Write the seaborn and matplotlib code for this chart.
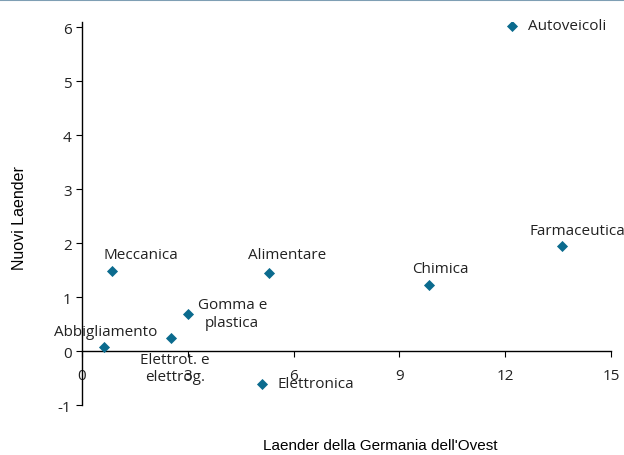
import matplotlib
matplotlib.use('Agg')
import matplotlib.pyplot as plt
from matplotlib.lines import Line2D
import seaborn as sns
import pandas as pd

# Settori: crescita nei Laender occidentali (x) e nei nuovi Laender (y)
settori = ["Autoveicoli", "Farmaceutica", "Chimica", "Alimentare", "Meccanica",
           "Gomma e\nplastica", "Abbigliamento", "Elettrot. e\nelettrog.", "Elettronica"]
ovest = [12.2, 13.6, 9.85, 5.3, 0.85, 3.0, 0.62, 2.52, 5.1]
nuovi = [6.02, 1.94, 1.22, 1.45, 1.48, 0.69, 0.07, 0.25, -0.61]
x_ticks = [0, 3, 6, 9, 12, 15]
y_ticks = [-1, 0, 1, 2, 3, 4, 5, 6]

# posizione delle etichette rispetto al punto (in punti) e allineamento
label_pos = {
    "Autoveicoli": ((11, 0), "left"),
    "Farmaceutica": ((11, 11), "center"),
    "Chimica": ((8, 12), "center"),
    "Alimentare": ((13, 13), "center"),
    "Meccanica": ((21, 12), "center"),
    "Gomma e\nplastica": ((32, 0), "center"),
    "Abbigliamento": ((1, 11), "center"),
    "Elettrot. e\nelettrog.": ((3, -22), "center"),
    "Elettronica": ((11, 0), "left"),
}

df = pd.DataFrame({"settore": settori, "ovest": ovest, "nuovi": nuovi})

sns.set_style("white")
plt.rcParams['font.family'] = ['Open Sans', 'DejaVu Sans']

fig = plt.figure(figsize=(6.24, 4.56), dpi=100)
ax = fig.add_axes([0.1314, 0.1096, 0.8478, 0.8408])

sns.scatterplot(data=df, x="ovest", y="nuovi", marker="D", s=32, color="#0B6B8E",
                edgecolor="#0B6B8E", linewidth=0, ax=ax, zorder=3)

for name, x, y in zip(settori, ovest, nuovi):
    (dx, dy), ha = label_pos[name]
    ax.annotate(name, (x, y), xytext=(dx, dy), textcoords="offset points",
                ha=ha, va="center", fontsize=11, color="#222222",
                linespacing=1.25, annotation_clip=False)

ax.set_xlim(0, 15)
ax.set_ylim(-1, 6.1)
ax.set_xticks(x_ticks)
ax.set_yticks(y_ticks)
ax.set_yticklabels([str(t) for t in y_ticks])

ax.spines['top'].set_visible(False)
ax.spines['right'].set_visible(False)
ax.spines['bottom'].set_position(('data', 0))
for sp in ['left', 'bottom']:
    ax.spines[sp].set_color('black')
    ax.spines[sp].set_linewidth(1.0)
ax.tick_params(axis='both', direction='out', length=4, width=0.8, color='black',
               labelsize=11, labelcolor='#222222', left=True, bottom=True)
ax.tick_params(axis='x', pad=8)

ax.set_xlabel("")
ax.set_ylabel("")
fig.text(0.609, 0.022, "Laender della Germania dell'Ovest", ha='center', va='center',
         fontsize=11, color='black', family=['Liberation Sans Narrow', 'Liberation Sans'])
fig.text(0.032, 0.522, "Nuovi Laender", ha='center', va='center', rotation=90,
         fontsize=11.5, color='black', family=['Liberation Sans'])

fig.add_artist(Line2D([0, 1], [0.998, 0.998], transform=fig.transFigure,
                      color="#7F9FB4", linewidth=1.5))

fig.savefig("out.png", dpi=100)
